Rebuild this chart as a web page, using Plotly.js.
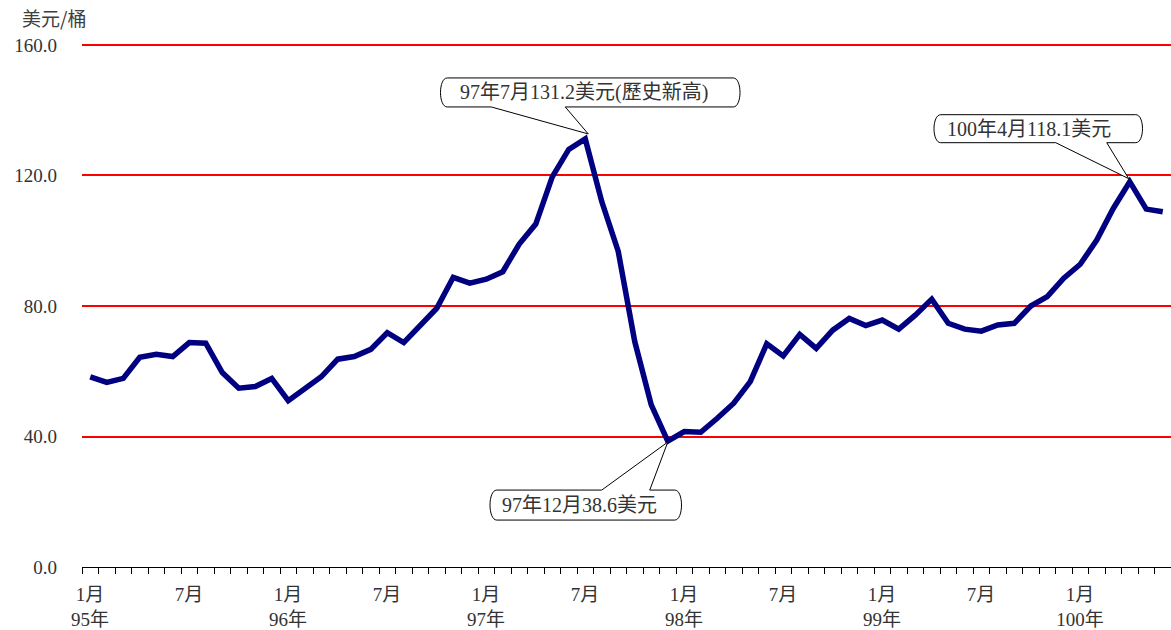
<!DOCTYPE html>
<html>
<head>
<meta charset="utf-8">
<script src="https://cdn.plot.ly/plotly-3.0.1.min.js"></script>
<style>html,body{margin:0;padding:0;background:#fff;}#chart{width:1171px;height:630px;}</style>
</head>
<body>
<div id="chart"></div>
<script>
// Monthly categories (民國 year / month)
const categories = [
  "95/1","95/2","95/3","95/4","95/5","95/6","95/7","95/8","95/9","95/10","95/11","95/12",
  "96/1","96/2","96/3","96/4","96/5","96/6","96/7","96/8","96/9","96/10","96/11","96/12",
  "97/1","97/2","97/3","97/4","97/5","97/6","97/7","97/8","97/9","97/10","97/11","97/12",
  "98/1","98/2","98/3","98/4","98/5","98/6","98/7","98/8","98/9","98/10","98/11","98/12",
  "99/1","99/2","99/3","99/4","99/5","99/6","99/7","99/8","99/9","99/10","99/11","99/12",
  "100/1","100/2","100/3","100/4","100/5","100/6"
];
// Crude oil price, USD per barrel
const prices = [
  58.3,56.6,57.8,64.3,65.2,64.5,68.8,68.6,59.6,54.8,55.3,57.8,
  51.0,54.5,58.3,63.7,64.5,66.7,71.8,68.8,74.2,79.3,88.8,87.0,
  88.2,90.5,99.0,105.1,119.6,128.0,131.2,112.0,96.7,69.1,49.7,38.6,
  41.5,41.3,45.6,50.2,56.8,68.4,64.7,71.3,67.0,72.6,76.2,74.0,
  75.7,72.9,77.2,82.1,74.7,72.9,72.3,74.2,74.7,80.0,82.9,88.5,
  92.8,100.2,109.9,118.1,109.7,108.9
];
// Labelled months and their tick text
const labelCats = ["95/1","95/7","96/1","96/7","97/1","97/7","98/1","98/7","99/1","99/7","100/1"];
const labelText = ["1月<br>95年","7月","1月<br>96年","7月","1月<br>97年","7月","1月<br>98年","7月","1月<br>99年","7月","1月<br>100年"];
const yTicks = [0, 40, 80, 120, 160];
// Callouts
const calloutCats = ["97/7","97/12","100/4"];
const calloutText = ["97年7月131.2美元(歷史新高)","97年12月38.6美元","100年4月118.1美元"];

const xIdx = categories.map((c, i) => i);
const tickvals = categories.map((c, i) => i - 0.5).concat([categories.length - 0.5]);
const ticktext = tickvals.map((v) => {
  const k = labelCats.indexOf(categories[v + 0.5]);
  return k >= 0 ? labelText[k] : "";
});

const serif = "Liberation Serif, Noto Sans CJK TC, serif";
const txtColor = "#333333";

// callout geometry (pixel offsets relative to the data point, y up)
const calloutGeom = [
  {x0:-145, x1:155, yb:32, yt:61, wa:-94, wb:-20, tx:3, ty:5, cx:-1, cy:46},
  {x0:-178, x1:14, yb:-79, yt:-49, wa:-66, wb:-18, tx:0, ty:-1, cx:-88, cy:-64},
  {x0:-196, x1:13, yb:39, yt:67, wa:-74, wb:-23, tx:-1, ty:3, cx:-101, cy:53}
];
function calloutPath(g) {
  const b = 7;
  let p = `M ${g.x0 + b},${g.yt}`;
  if (g.ty > g.yt) p += ` L ${g.wa},${g.yt} L ${g.tx},${g.ty} L ${g.wb},${g.yt}`;
  p += ` L ${g.x1 - b},${g.yt}`;
  p += ` C ${g.x1 + 2},${g.yt} ${g.x1 + 2},${g.yb} ${g.x1 - b},${g.yb}`;
  if (g.ty < g.yb) p += ` L ${g.wb},${g.yb} L ${g.tx},${g.ty} L ${g.wa},${g.yb}`;
  p += ` L ${g.x0 + b},${g.yb}`;
  p += ` C ${g.x0 - 2},${g.yb} ${g.x0 - 2},${g.yt} ${g.x0 + b},${g.yt} Z`;
  return p;
}

const shapes = [];
const annotations = [];
calloutCats.forEach((c, k) => {
  const i = categories.indexOf(c);
  const g = calloutGeom[k];
  shapes.push({
    type: "path", xref: "x", yref: "y", xsizemode: "pixel", ysizemode: "pixel",
    xanchor: i, yanchor: prices[i], path: calloutPath(g),
    line: {color: "#000000", width: 1}, fillcolor: "#ffffff", layer: "above"
  });
  annotations.push({
    x: i, y: prices[i], xref: "x", yref: "y", showarrow: false,
    xshift: g.cx, yshift: g.cy, text: calloutText[k],
    font: {family: serif, size: 20, color: txtColor}
  });
});

const trace = {
  x: xIdx, y: prices, type: "scatter", mode: "lines",
  line: {color: "#000080", width: 5.5}, hoverinfo: "skip", cliponaxis: false
};

const layout = {
  width: 1171, height: 630,
  margin: {l: 82, r: 0, t: 40, b: 63},
  paper_bgcolor: "#ffffff", plot_bgcolor: "#ffffff",
  showlegend: false,
  title: {text: "美元/桶", x: 22/1171, xanchor: "left", xref: "container", y: 1 - 19/630, yref: "container", yanchor: "middle",
          font: {family: "Noto Sans CJK TC, sans-serif", size: 19, color: "#404040"}},
  xaxis: {
    range: [-0.5, categories.length - 0.5], tickmode: "array", tickvals: tickvals, ticktext: ticktext,
    ticks: "outside", ticklen: 6, tickwidth: 1, tickcolor: "#000000",
    ticklabelshift: 8, ticklabelstandoff: 4,
    showline: true, linecolor: "#000000", linewidth: 1, showgrid: false, zeroline: false,
    tickfont: {family: serif, size: 19, color: txtColor}, fixedrange: true
  },
  yaxis: {
    range: [0, 161.53], tickmode: "array", tickvals: yTicks, tickformat: ".1f",
    showgrid: true, gridcolor: "#ff0000", gridwidth: 2, zeroline: false, showline: false,
    ticks: "", ticklabelstandoff: 24,
    tickfont: {family: serif, size: 19, color: txtColor}, fixedrange: true
  },
  shapes: shapes,
  annotations: annotations
};

Plotly.newPlot("chart", [trace], layout, {displayModeBar: false, staticPlot: true});
</script>
</body>
</html>
